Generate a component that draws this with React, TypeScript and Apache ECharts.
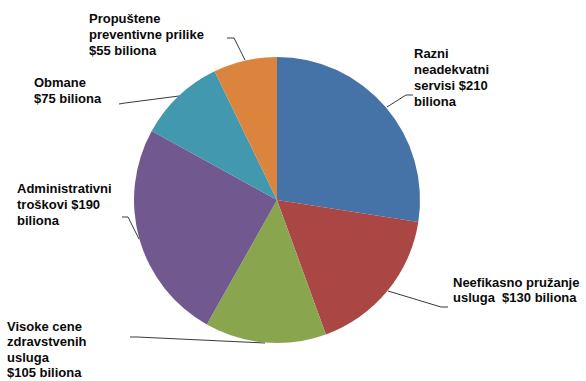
import React, { useEffect, useRef } from "react";
import * as echarts from "echarts";

const categories = [
  "Razni\nneadekvatni\nservisi $210\nbiliona",
  "Neefikasno pružanje\nusluga  $130 biliona",
  "Visoke cene\nzdravstvenih\nusluga\n$105 biliona",
  "Administrativni\ntroškovi $190\nbiliona",
  "Obmane\n$75 biliona",
  "Propuštene\npreventivne prilike\n$55 biliona",
];
const values = [210, 130, 105, 190, 75, 55];
const colors = ["#4572A7", "#AA4643", "#89A54E", "#71588F", "#4198AF", "#DB843D"];

// label layout (top-left of text block) and leader line points
const labelPos = [
  { x: 414, y: 45, lh: 16 },
  { x: 453, y: 275, lh: 15 },
  { x: 7, y: 319, lh: 15.3 },
  { x: 17, y: 180, lh: 16 },
  { x: 34, y: 74, lh: 16 },
  { x: 89, y: 10, lh: 16 },
];
const linePts = [
  [[387, 107], [406, 95], [413, 95]],
  [[388, 291], [441, 307], [448, 307]],
  [[265, 343], [137, 337], [130, 337]],
  [[139, 239], [128, 217], [122, 217]],
  [[179, 96], [125, 103], [119, 104]],
  [[245, 60], [234, 38], [227, 38]],
];

export default function App() {
  const ref = useRef<HTMLDivElement>(null);
  useEffect(() => {
    if (!ref.current) return;
    const chart = echarts.init(ref.current, undefined, { renderer: "svg" });
    chart.setOption({
      animation: false,
      backgroundColor: "#ffffff",
      series: [
        {
          type: "pie",
          center: [277, 200],
          radius: 143,
          startAngle: 90,
          clockwise: true,
          avoidLabelOverlap: false,
          data: values.map((v, i) => ({
            value: v,
            name: categories[i],
            itemStyle: { color: colors[i] },
            label: { lineHeight: labelPos[i].lh },
          })),
          label: {
            show: true,
            position: "outer",
            formatter: "{b}",
            fontFamily: "Arial, 'Liberation Sans', sans-serif",
            fontWeight: "bold",
            fontSize: 13,
            color: "#0a0a0a",
            align: "left",
          },
          labelLine: {
            show: true,
            lineStyle: { color: "#3a3a3a", width: 1 },
          },
          labelLayout: (p: any) => {
            const i = p.dataIndex;
            return {
              x: labelPos[i].x,
              y: labelPos[i].y,
              align: "left",
              verticalAlign: "top",
              labelLinePoints: linePts[i],
            };
          },
          emphasis: { disabled: true },
        },
      ],
    });
    return () => chart.dispose();
  }, []);
  return (
    <div
      ref={ref}
      style={{ position: "fixed", left: 0, top: 0, width: 586, height: 381 }}
    />
  );
}
